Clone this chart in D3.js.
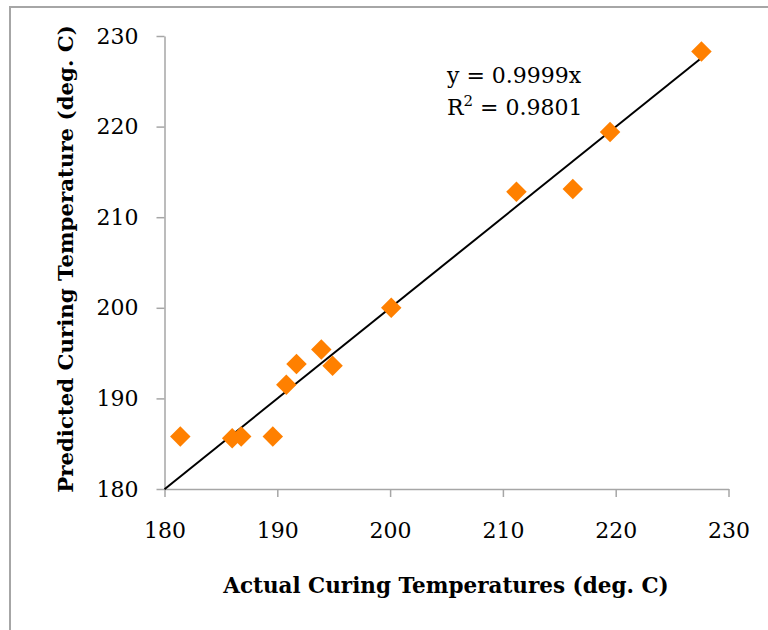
<!DOCTYPE html>
<html>
<head>
<meta charset="utf-8">
<script src="https://d3js.org/d3.v7.min.js"></script>
<style>
  body { margin: 0; background: #fff; }
  svg { display: block; }
  .tick text { font-family: "DejaVu Serif", serif; font-size: 22px; fill: #000; }
</style>
</head>
<body>
<svg id="chart"></svg>
<script>
// values
var actualTemp = [181.4, 186.0, 186.8, 189.6, 190.8, 191.7, 193.9, 194.9, 200.1, 211.2, 216.2, 219.5, 227.6];
var predictedTemp = [185.8, 185.6, 185.8, 185.8, 191.5, 193.8, 195.4, 193.6, 200.0, 212.8, 213.1, 219.4, 228.3];
var xTicks = [180, 190, 200, 210, 220, 230];
var yTicks = [180, 190, 200, 210, 220, 230];
var slope = 0.9999;
var eqLabel = "y = 0.9999x";
var r2Label = "0.9801";

var width = 768;
var height = 630;
var margin = {top: 36, right: 39.5, bottom: 141, left: 164.5};

var svg = d3.select("#chart").attr("width", width).attr("height", height);

// outer frame (only top and left edges are visible)
svg.append("path")
  .attr("d", "M10,630 V7 H768")
  .attr("fill", "none")
  .attr("stroke", "#a6a6a6")
  .attr("stroke-width", 2);

var xScale = d3.scaleLinear().domain([180, 230]).range([margin.left, width - margin.right]);
var yScale = d3.scaleLinear().domain([180, 230]).range([height - margin.bottom, margin.top]);

var xAxis = d3.axisBottom(xScale).tickValues(xTicks).tickSize(8).tickSizeOuter(0).tickPadding(25);
var yAxis = d3.axisLeft(yScale).tickValues(yTicks).tickSize(8).tickSizeOuter(0).tickPadding(18);

var gx = svg.append("g").attr("transform", "translate(0," + (height - margin.bottom) + ")").call(xAxis);
var gy = svg.append("g").attr("transform", "translate(" + margin.left + ",0)").call(yAxis);

[gx, gy].forEach(function (g) {
  g.select(".domain").attr("stroke", "#a6a6a6").attr("stroke-width", 1.5);
  g.selectAll(".tick line").attr("stroke", "#a6a6a6").attr("stroke-width", 1.5);
});

// trend line y = 0.9999x, from axis start to the largest x
var xMax = d3.max(actualTemp);
svg.append("line")
  .attr("x1", xScale(180)).attr("y1", yScale(180 * slope))
  .attr("x2", xScale(xMax)).attr("y2", yScale(xMax * slope))
  .attr("stroke", "#000")
  .attr("stroke-width", 2);

// diamonds
var diamond = d3.symbol().type(d3.symbolSquare).size(210);
svg.selectAll("path.pt").data(actualTemp).enter().append("path")
  .attr("class", "pt")
  .attr("d", diamond)
  .attr("transform", function (d, i) {
    return "translate(" + xScale(d) + "," + yScale(predictedTemp[i]) + ") rotate(45)";
  })
  .attr("fill", "#ff8000");

// equation label
var eq = svg.append("text")
  .attr("font-family", "DejaVu Serif, serif")
  .attr("font-size", 22)
  .attr("fill", "#000");
eq.append("tspan").attr("x", 447).attr("y", 83).text(eqLabel);
eq.append("tspan").attr("x", 447).attr("y", 115).text("R");
eq.append("tspan").attr("dy", -9).attr("font-size", 15).text("2");
eq.append("tspan").attr("dy", 9).text(" = " + r2Label);

// axis titles
svg.append("text")
  .attr("x", 446).attr("y", 593)
  .attr("text-anchor", "middle")
  .attr("font-family", "DejaVu Serif, serif")
  .attr("font-weight", "bold")
  .attr("font-size", 21.5)
  .text("Actual Curing Temperatures (deg. C)");

svg.append("text")
  .attr("transform", "translate(73,259) rotate(-90)")
  .attr("text-anchor", "middle")
  .attr("font-family", "DejaVu Serif, serif")
  .attr("font-weight", "bold")
  .attr("font-size", 21.3)
  .text("Predicted Curing Temperature (deg. C)");
</script>
</body>
</html>
